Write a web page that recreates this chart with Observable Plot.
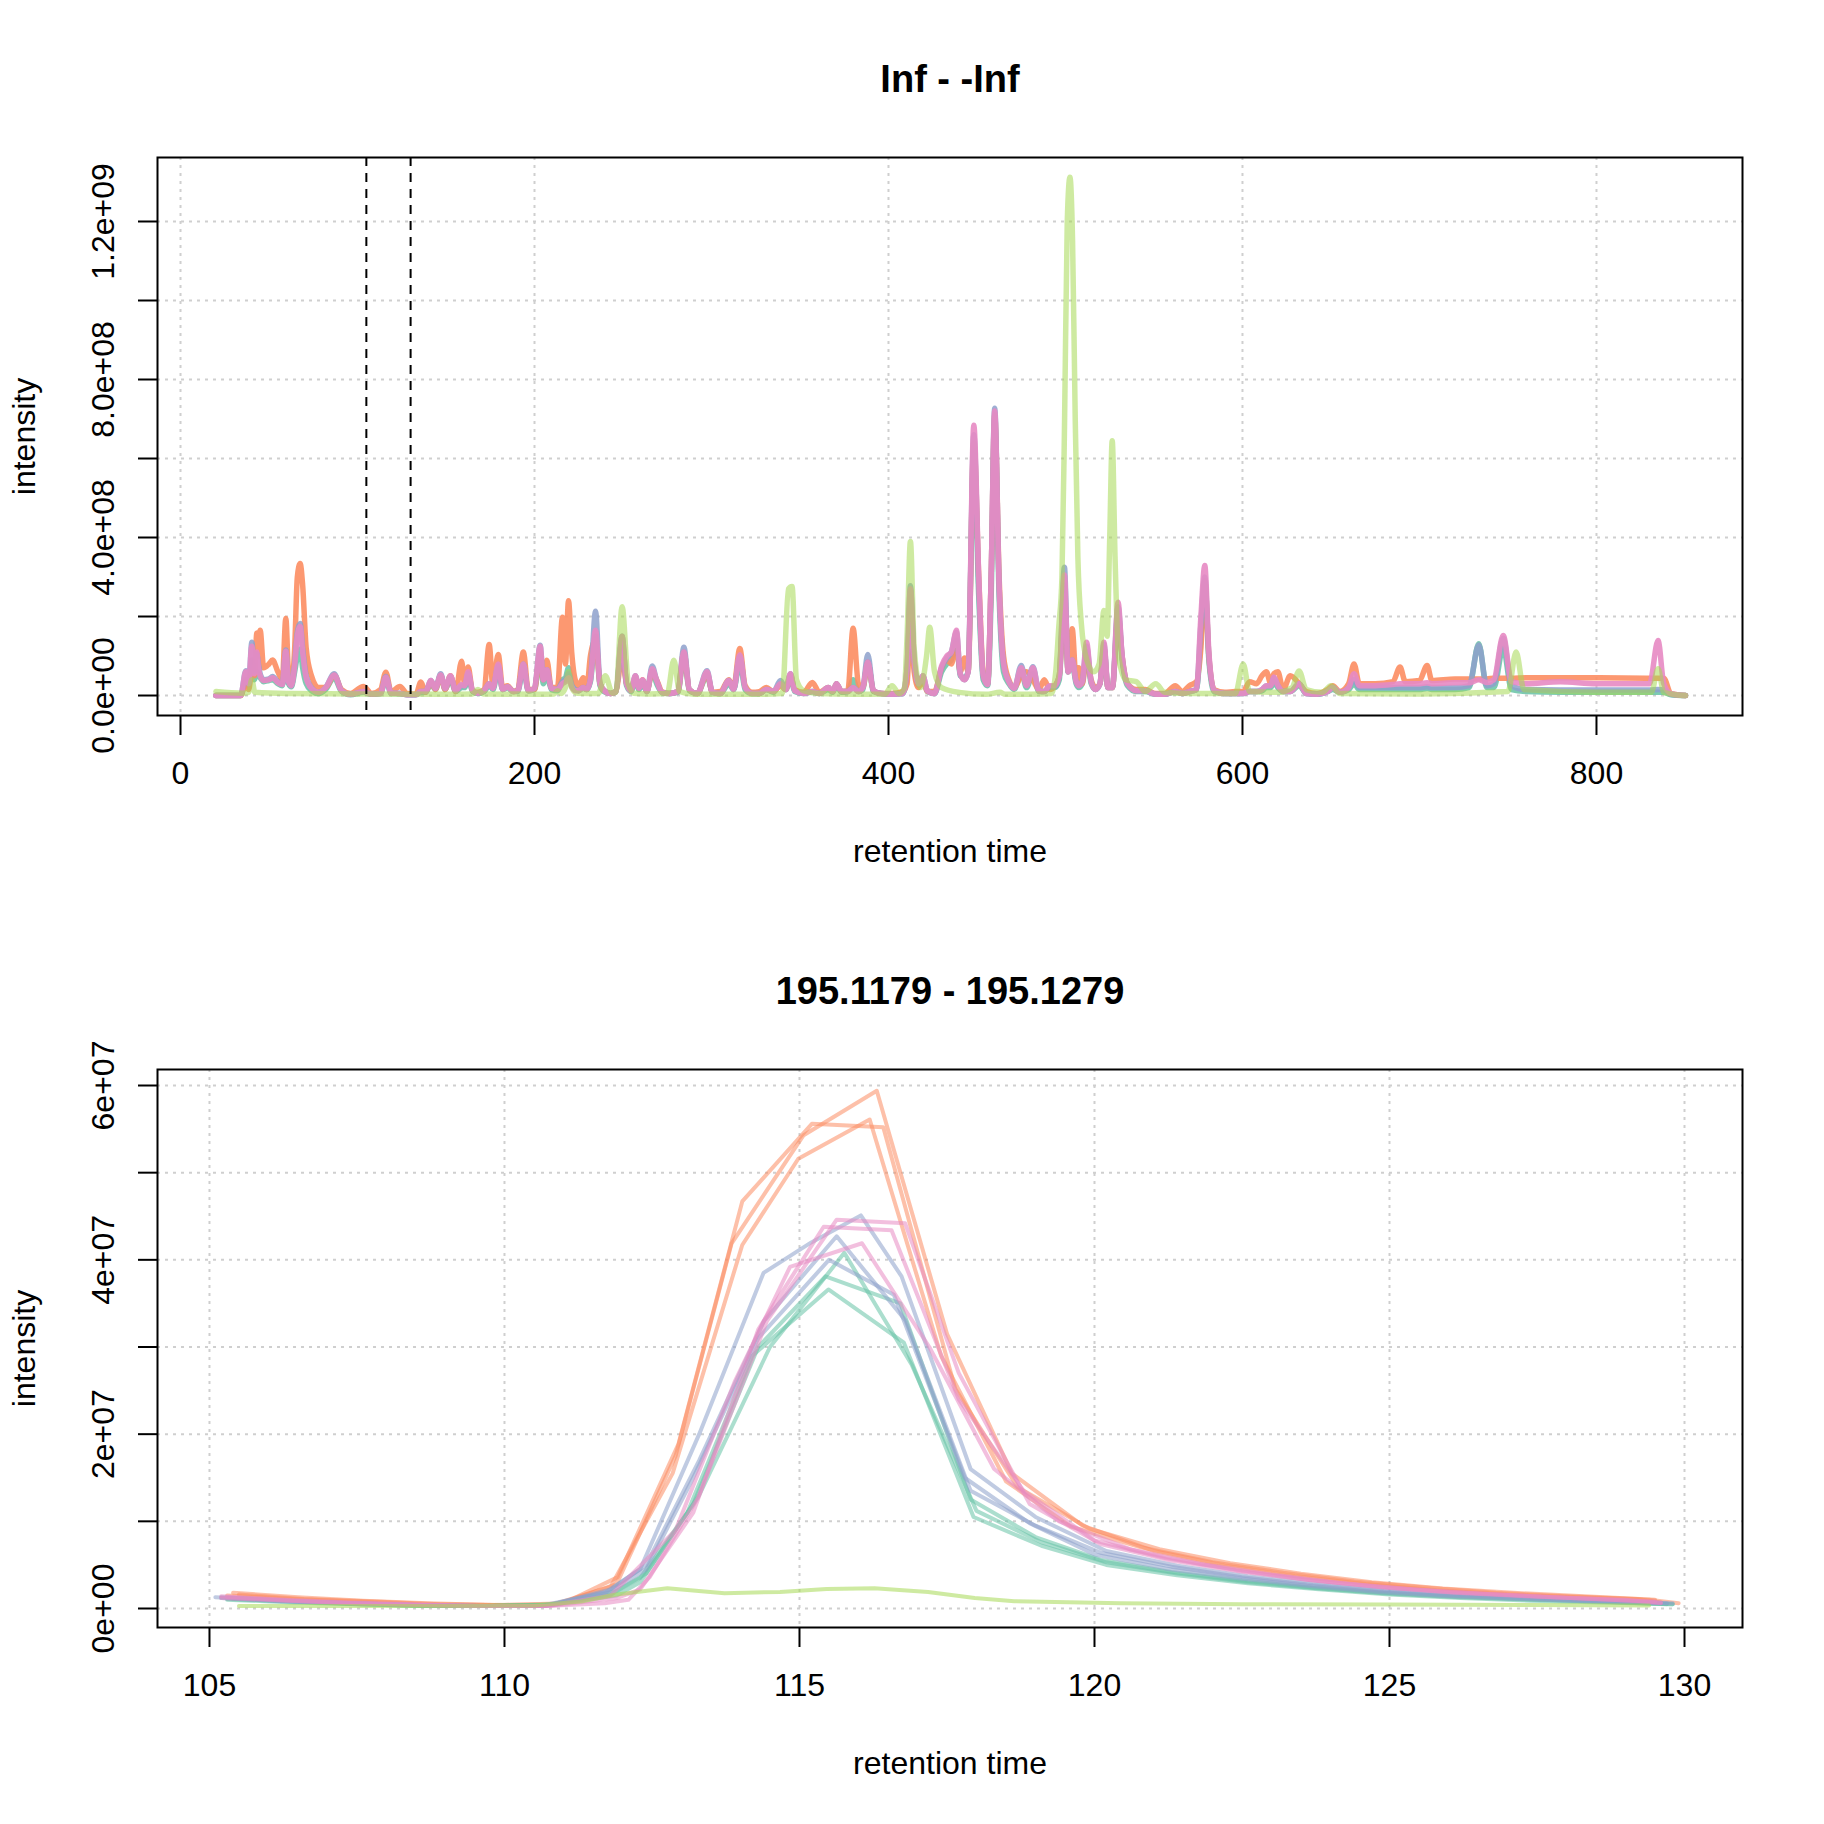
<!DOCTYPE html>
<html><head><meta charset="utf-8">
<script src="https://cdn.jsdelivr.net/npm/d3@7"></script>
<script src="https://cdn.jsdelivr.net/npm/@observablehq/plot@0.6"></script>
<style>
html,body{margin:0;padding:0;background:#fff;overflow:hidden;}
#chart svg{display:block;}
</style></head><body><div id="chart"></div>
<script>
// ---------- values are in units of 1e6 ----------
const UNIT = 1e6;

// ---- top panel (full chromatogram), shared retention-time grid ----
const ticRT = [
20,34,36.9,38.5,40.3,41.8,43.1,44,45,47,
50,52,55,57.5,59.5,61,62.6,64.5,66,67.6,
69,71,74,78,82,86.8,91,96,103.4,108,
113,116,119,124,128,133,135.8,138.5,141.5,144,
147,149.5,152.5,155.5,158.8,160.5,162.5,165,168,171.5,
174.4,176.5,179.5,182,184.8,188,190.5,193.7,196.5,200,
203.2,205,207,209.5,213,215.8,217.5,219.2,221,223,
225,227.5,229.5,231.6,234.5,237,240,243,246,249.5,
252,254.5,257,259,261,263.5,266.5,269,272,276,
281,284.4,287.5,292,297.5,300.5,305,309.8,312.5,316,
319,323,327,331,335,339,342,344.6,347,352,
357,361,366,368.5,370.6,373.5,377,380,383,385.5,
388.3,391.5,396,402,408,410.5,412.4,414.5,417,419.4,
422,426,430,433,435.5,438.4,440.5,443,445,448.2,
451,453.5,456,458,460,462.5,465,468,471,475,
478,481.6,485,488,491,494,496.5,499.4,501.5,503.8,
506,507.5,509.5,511.9,514.5,517,519.5,521.7,524,526.5,
529.7,532,535,540,545,551,556,562,566,570,
574,576.5,578.7,581,584,590,596,600.4,604,608,
611,613.5,616,617.7,620,623,627,632,636,642,
648,651,655,660,663,666,675,685,689,692,
700,704.3,707,720,728,733.5,738,742,747.3,752,
760,779.5,800,830,834.8,838,842,850.3];

const ticOrange = [
0,0,30,15,60,50,158,100,165,70,
80,90,60,40,195,60,30,120,300,334,
280,120,50,20,20,52,15,5,23,5,
15,59,10,23,5,3,34,8,35,15,
50,15,50,10,87,30,72,12,8,15,
129,25,104,20,25,10,15,110,15,15,
110,40,89,20,20,198,80,240,110,40,
25,45,20,100,140,30,10,5,10,100,
30,15,45,20,40,12,60,40,10,5,
10,110,15,5,55,8,10,40,20,119,
25,8,10,20,10,25,15,50,15,8,
33,8,20,10,30,10,12,170,30,20,
85,12,5,5,10,30,200,60,20,40,
10,10,70,90,80,130,60,95,60,640,
300,60,30,300,710,300,100,40,20,50,
60,40,15,40,15,25,50,250,60,169,
40,70,30,100,40,20,30,120,20,20,
200,100,30,15,15,5,5,25,10,25,
35,120,290,100,15,8,10,10,35,30,
50,60,30,55,60,15,50,30,10,5,
15,25,10,30,80,30,30,35,72,35,
38,76,38,42,42,42,42,44,44,44,
45,45,45,44,44,44,5,0];

const ticTeal = [
0,0,40,20,90,40,60,50,45,35,
38,40,30,25,90,30,22,60,100,118,
70,30,12,5,15,45,10,2,8,3,
5,40,5,5,2,2,8,8,30,15,
50,15,40,10,20,20,45,10,5,10,
25,15,65,15,20,10,10,70,12,15,
100,30,55,15,12,40,45,70,30,15,
12,20,15,35,150,25,8,5,10,150,
25,10,40,15,30,10,60,30,8,5,
8,100,12,5,50,8,5,30,15,85,
15,5,5,15,8,30,15,45,10,5,
10,5,15,8,25,8,10,40,10,15,
85,10,5,3,5,50,250,80,25,40,
10,5,60,80,90,140,50,45,60,620,
250,40,25,250,690,250,60,30,15,60,
20,55,10,10,20,20,40,280,60,80,
30,20,30,110,30,15,30,120,20,20,
210,90,25,10,10,3,3,10,5,10,
15,150,290,90,10,5,5,5,10,10,
12,20,20,35,20,10,10,25,5,3,
10,15,8,15,30,15,15,15,15,15,
15,18,15,15,20,131,20,20,120,15,
10,8,8,8,8,8,2,0];

const ticBlue = [
0,0,63,30,135,60,105,80,55,40,
42,48,35,28,115,35,25,80,160,182,
120,50,20,8,20,55,12,3,10,3,
5,48,6,5,2,2,10,10,38,18,
55,18,48,12,25,25,55,12,6,12,
30,18,75,15,22,10,12,80,12,18,
127,40,65,18,15,35,40,55,25,15,
12,20,15,40,213,30,10,5,10,140,
30,12,50,18,38,10,75,38,8,5,
10,122,15,5,63,8,5,38,15,100,
20,5,5,15,10,38,15,55,12,5,
10,5,20,10,30,10,10,20,10,20,
104,12,5,3,5,70,278,90,30,50,
12,5,70,95,110,160,55,40,60,660,
280,50,28,300,727,280,80,35,18,76,
25,73,12,10,22,22,50,325,60,90,
35,25,35,125,35,15,30,130,20,20,
225,100,30,12,12,3,3,10,5,10,
15,180,300,100,12,5,5,5,10,10,
15,25,25,45,25,10,10,30,5,3,
10,20,8,20,40,20,20,20,20,20,
20,22,20,20,25,128,25,30,145,25,
15,14,14,14,15,14,3,0];

const ticPink = [
0,0,60,30,125,55,110,70,50,38,
40,45,33,28,112,35,25,75,150,175,
110,45,18,8,20,52,12,3,10,3,
5,46,6,5,2,2,10,10,38,18,
52,18,50,12,28,25,60,12,6,12,
30,18,80,15,22,10,12,80,12,18,
125,40,65,18,15,30,35,45,22,12,
12,20,15,40,165,30,10,5,10,150,
30,12,50,18,40,10,68,38,8,5,
10,110,15,5,60,8,5,38,15,103,
20,5,5,15,10,30,15,55,12,5,
10,5,20,10,30,10,10,20,10,20,
85,12,5,3,5,70,270,90,30,50,
12,5,75,100,110,165,55,40,60,684,
300,50,28,300,720,280,80,35,18,70,
25,70,12,10,25,25,50,305,60,90,
35,25,35,135,35,15,30,135,20,20,
236,100,30,12,12,3,3,10,5,10,
15,200,329,110,12,5,5,5,10,10,
15,25,25,47,25,10,10,30,5,3,
10,20,8,20,55,25,25,28,30,30,
30,32,30,32,32,40,33,40,152,35,
30,35,30,30,139,30,5,0];

// green sample (own retention times): [rt, intensity]
const ticGreen = [
[20,10],[35,6],[38.5,8],[40.3,40],[42,8],[60,5],[100,4],[150,3],[165,4],[168,15],[171,4],
[200,3],[211,4],[213,12],[215,5],[217.5,20],[219.2,60],[221,20],[224,6],[236,5],[240,50],
[244,6],[246,8],[249.5,225],[253,30],[256,6],[265,4],[275,5],[278.7,89],[282,10],[290,3],
[330,3],[340,5],[343.5,270],[345.5,276],[348,40],[352,12],[360,5],[380,3],[398,4],[402,25],
[406,5],[409,20],[410.5,150],[412.4,390],[414.5,120],[418,20],[421.5,100],[423.3,173],[426,60],
[430,20],[440,8],[455,3],[463,8],[466,3],[480,3],[492,5],[494.5,60],[496.2,173],[498,300],
[499.5,700],[501,1200],[502.5,1312],[504,1150],[505.5,700],[507,350],[509,180],[512,90],
[516,60],[519,80],[521.7,215],[523.5,150],[525,400],[526.4,645],[528,350],[530,100],[534,40],
[540,35],[545,10],[551,30],[556,8],[570,5],[596,5],[600.4,80],[604,10],[620,8],[628,20],
[632,62],[636,15],[645,8],[650,25],[655,5],[700,4],[750,10],[754.6,110],[759,15],[800,8],
[831,8],[834.8,68],[838,8],[845,2],[850.3,0]];

// selected rt window (dashed lines)
const rtWindow = [105, 130];

// ---- bottom panel (m/z 195.1179 - 195.1279), [rt, intensity] ----
const eicOrange1 = [[105.4,1.8],[106.5,1.3],[107.6,0.9],[108.7,0.6],[109.8,0.4],[110.9,0.5],[111.9,2.8],[112.9,17.5],[113.85,41.9],[115.07,54.3],[116.31,59.4],[117.5,31.5],[118.6,15.5],[119.8,9.5],[121,6.6],[122.2,4.9],[123.4,3.7],[124.6,2.8],[125.8,2.1],[127,1.6],[128.2,1.3],[129.4,1.0],[129.9,0.6]];
const eicOrange2 = [[105.5,1.6],[106.6,1.1],[107.8,0.8],[108.9,0.5],[110,0.4],[111,0.6],[111.92,3.6],[112.95,18.9],[114.03,46.7],[115.21,55.6],[116.42,55.2],[117.64,25.2],[118.7,13.9],[119.9,9.2],[121.1,6.8],[122.3,5.2],[123.5,4.0],[124.7,3.0],[125.9,2.3],[127.1,1.8],[128.3,1.4],[129.5,1.0]];
const eicOrange3 = [[105.3,1.5],[106.4,1.1],[107.5,0.8],[108.6,0.5],[109.7,0.4],[110.8,0.4],[111.8,2.5],[112.85,15.5],[114.03,41.7],[114.98,51.6],[116.19,56.1],[117.4,29],[118.5,14.6],[119.6,9.4],[120.8,7.0],[122,5.3],[123.2,4.1],[124.4,3.1],[125.6,2.4],[126.8,1.8],[128,1.4],[129.2,1.1],[129.6,0.7]];
const eicTeal1 = [[105.3,1.1],[106.4,0.8],[107.5,0.5],[108.6,0.3],[109.7,0.3],[110.8,0.4],[111.9,2.0],[112.4,4],[113.3,13],[114.5,30],[115.76,40.8],[116.9,28],[118,11.2],[119.1,7.6],[120.2,5.3],[121.4,4.0],[122.6,3.0],[123.8,2.3],[125,1.7],[126.2,1.3],[127.4,1.0],[128.6,0.8],[129.8,0.5]];
const eicTeal2 = [[105.4,1.1],[106.5,0.8],[107.6,0.5],[108.7,0.3],[109.8,0.3],[110.9,0.5],[111.9,1.5],[112.3,3],[113.2,12],[114.3,30],[115.44,38.1],[116.71,35],[117.9,12.5],[119,8.2],[120.1,5.6],[121.3,4.2],[122.5,3.2],[123.7,2.4],[124.9,1.8],[126.1,1.4],[127.3,1.1],[128.5,0.8],[129.7,0.5]];
const eicTeal3 = [[105.3,1.0],[106.4,0.7],[107.5,0.5],[108.6,0.3],[109.7,0.3],[110.8,0.4],[111.8,1.6],[112.3,3.5],[113.1,11],[114.2,29],[115.49,36.6],[116.77,30.5],[117.95,10.5],[119.1,7.2],[120.2,5.0],[121.4,3.8],[122.6,2.9],[123.8,2.2],[125,1.6],[126.2,1.2],[127.4,0.9],[128.6,0.7],[129.8,0.5]];
const eicBlue1 = [[105.1,1.3],[106.2,0.9],[107.3,0.6],[108.4,0.4],[109.5,0.3],[110.6,0.3],[111.7,1.8],[112.3,4.5],[113.3,20],[114.39,38.5],[115.2,42],[116.04,45.1],[116.73,38.1],[117.9,16],[119,10.5],[120.2,6.6],[121.4,4.9],[122.6,3.7],[123.8,2.8],[125,2.1],[126.2,1.6],[127.4,1.2],[128.6,0.9],[129.8,0.6]];
const eicBlue2 = [[105.2,1.3],[106.3,0.9],[107.4,0.6],[108.5,0.4],[109.6,0.3],[110.7,0.3],[111.8,2.2],[112.4,5],[113.3,17],[114.4,33],[115.63,42.7],[116.8,33],[117.9,13.5],[119,9.5],[120.1,6.4],[121.3,4.8],[122.5,3.6],[123.7,2.7],[124.9,2.0],[126.1,1.5],[127.3,1.2],[128.5,0.9],[129.7,0.6]];
const eicBlue3 = [[105.2,1.2],[106.3,0.8],[107.4,0.6],[108.5,0.4],[109.6,0.3],[110.7,0.3],[111.8,2.0],[112.4,4.5],[113.2,15],[114.3,31],[115.5,40],[116.6,36],[117.8,15],[118.9,9.8],[120,6.2],[121.2,4.6],[122.4,3.5],[123.6,2.6],[124.8,1.9],[126,1.4],[127.2,1.1],[128.4,0.8],[129.6,0.6]];
const eicPink1 = [[105.2,1.4],[106.3,1.0],[107.4,0.7],[108.5,0.5],[109.6,0.3],[110.7,0.3],[111.7,0.6],[112.1,1.0],[112.46,3.6],[113.28,12.7],[114.45,33],[115.63,44.6],[116.79,44.2],[117.7,27],[118.9,12],[120.1,7.4],[121.3,5.5],[122.5,4.2],[123.7,3.2],[124.9,2.4],[126.1,1.8],[127.3,1.4],[128.5,1.1],[129.6,0.7]];
const eicPink2 = [[105.3,1.3],[106.4,0.9],[107.5,0.6],[108.6,0.4],[109.7,0.3],[110.8,0.3],[111.9,1.2],[112.3,2.2],[113.2,11],[114.3,32],[115.41,43.8],[116.56,43.4],[117.7,24],[118.8,13.5],[120,7.8],[121.2,5.8],[122.4,4.4],[123.6,3.3],[124.8,2.5],[126,1.9],[127.2,1.5],[128.4,1.1],[129.5,0.8]];
const eicPink3 = [[105.2,1.2],[106.3,0.9],[107.4,0.6],[108.5,0.4],[109.6,0.3],[110.7,0.3],[111.8,1.5],[112.9,9],[113.9,26],[114.84,39.2],[116.06,41.9],[117.2,30],[118.3,16],[119.4,10],[120.6,6.8],[121.8,5.1],[123,3.9],[124.2,2.9],[125.4,2.2],[126.6,1.7],[127.8,1.3],[129,1.0],[129.6,0.6]];
const eicGreen = [[105.5,0.3],[107,0.3],[109,0.3],[110.5,0.35],[111.3,0.8],[111.9,1.6],[112.76,2.33],[113.73,1.76],[114.67,1.9],[115.46,2.25],[116.27,2.33],[117.18,1.9],[117.97,1.2],[118.64,0.84],[120.44,0.6],[122.5,0.5],[125,0.45],[127.5,0.4],[129.4,0.35]];

// ---- ticks and labels ----
const topXTicks = [0, 200, 400, 600, 800];
const topXLabels = ["0", "200", "400", "600", "800"];
const topYTicks = [0, 2e8, 4e8, 6e8, 8e8, 1e9, 1.2e9];
const topYLabels = ["0.0e+00", "", "4.0e+08", "", "8.0e+08", "", "1.2e+09"];
const botXTicks = [105, 110, 115, 120, 125, 130];
const botXLabels = ["105", "110", "115", "120", "125", "130"];
const botYTicks = [0, 1e7, 2e7, 3e7, 4e7, 5e7, 6e7];
const botYLabels = ["0e+00", "", "2e+07", "", "4e+07", "", "6e+07"];

const colors = {teal: "#66C2A5", orange: "#FC8D62", blue: "#8DA0CB", pink: "#E78AC3", green: "#A6D854"};

[ticOrange, ticTeal, ticBlue, ticPink].forEach((a, i) => {
  if (a.length !== ticRT.length) throw new Error("length mismatch in series " + i + ": " + a.length + " vs " + ticRT.length);
});

const fromColumns = (vals) => ticRT.map((rt, i) => ({rt, v: vals[i] * UNIT}));
const fromPairs = (pairs) => pairs.map(([rt, v]) => ({rt, v: v * UNIT}));

const font = "'Liberation Sans', Arial, Helvetica, sans-serif";

function panel({xDomain, yDomain, xTicks, xLabels, yTicks, yLabels, title, lineMarks, extra = []}) {
  const xl = new Map(xTicks.map((t, i) => [t, xLabels[i]]));
  const yl = new Map(yTicks.map((t, i) => [t, yLabels[i]]));
  const grid = {stroke: "#cfcfcf", strokeOpacity: 1, strokeWidth: 2, strokeDasharray: "3,5"};
  return Plot.plot({
    width: 1824, height: 912,
    marginLeft: 157, marginRight: 82, marginTop: 157, marginBottom: 197,
    style: {fontFamily: font, fontSize: "32px", color: "black", background: "white"},
    x: {domain: xDomain, label: null},
    y: {domain: yDomain, label: null},
    marks: [
      Plot.gridX(xTicks, grid),
      Plot.gridY(yTicks, grid),
      ...lineMarks,
      ...extra,
      Plot.frame({stroke: "black", strokeWidth: 2}),
      Plot.axisX(xTicks, {tickSize: 20, tickPadding: 26, strokeWidth: 2, tickFormat: d => xl.get(d), label: null}),
      Plot.axisY(yTicks, {tickSize: 19, tickPadding: 25, tickRotate: -90, strokeWidth: 2, tickFormat: d => yl.get(d), label: null}),
      Plot.text([title], {text: d => d, frameAnchor: "top", dy: -78, lineAnchor: "middle", textAnchor: "middle", fontWeight: "bold", fontSize: 38}),
      Plot.text(["retention time"], {text: d => d, frameAnchor: "bottom", dy: 136, lineAnchor: "middle", textAnchor: "middle", fontSize: 32}),
      Plot.text(["intensity"], {text: d => d, frameAnchor: "left", dx: -133, rotate: -90, lineAnchor: "middle", textAnchor: "middle", fontSize: 32})
    ]
  });
}

const topLine = (data, color, op) => Plot.line(data, {x: "rt", y: "v", stroke: color, strokeWidth: 5.5, strokeOpacity: op, curve: "monotone-x"});

const topPanel = panel({
  xDomain: [-13, 882.5], yDomain: [-5.06e7, 1.362e9],
  xTicks: topXTicks, xLabels: topXLabels, yTicks: topYTicks, yLabels: topYLabels,
  title: "Inf - -Inf",
  lineMarks: [
    topLine(fromColumns(ticTeal), colors.teal, 0.85),
    topLine(fromColumns(ticOrange), colors.orange, 0.9),
    topLine(fromColumns(ticBlue), colors.blue, 0.85),
    topLine(fromColumns(ticPink), colors.pink, 0.9),
    topLine(fromPairs(ticGreen), colors.green, 0.55)
  ],
  extra: [Plot.ruleX(rtWindow, {stroke: "black", strokeWidth: 2, strokeDasharray: "9,7"})]
});

const botLine = (pairs, color) => Plot.line(fromPairs(pairs), {x: "rt", y: "v", stroke: color, strokeWidth: 4, strokeOpacity: 0.55});

const bottomPanel = panel({
  xDomain: [104.119, 130.983], yDomain: [-2.18e6, 6.1836e7],
  xTicks: botXTicks, xLabels: botXLabels, yTicks: botYTicks, yLabels: botYLabels,
  title: "195.1179 - 195.1279",
  lineMarks: [
    botLine(eicOrange1, colors.orange), botLine(eicOrange2, colors.orange), botLine(eicOrange3, colors.orange),
    botLine(eicTeal1, colors.teal), botLine(eicTeal2, colors.teal), botLine(eicTeal3, colors.teal),
    botLine(eicBlue1, colors.blue), botLine(eicBlue2, colors.blue), botLine(eicBlue3, colors.blue),
    botLine(eicPink1, colors.pink), botLine(eicPink2, colors.pink), botLine(eicPink3, colors.pink),
    botLine(eicGreen, colors.green)
  ]
});

const root = document.getElementById("chart");
root.appendChild(topPanel);
root.appendChild(bottomPanel);
</script></body></html>
